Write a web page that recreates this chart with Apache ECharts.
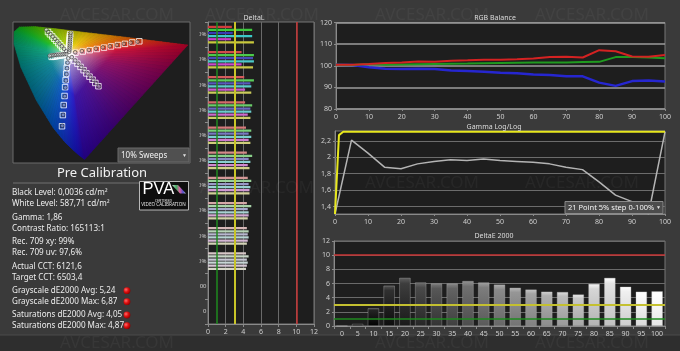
<!DOCTYPE html>
<html><head><meta charset="utf-8">
<script src="https://cdn.jsdelivr.net/npm/echarts@6/dist/echarts.min.js"></script>
<style>html,body{margin:0;padding:0;background:#3a3a3a;}#c{width:680px;height:351px;}</style>
</head><body><div id="c"></div>
<script>
// ---------------- DATA ----------------
const stepX = [0,5,10,15,20,25,30,35,40,45,50,55,60,65,70,75,80,85,90,95,100];
const rgbRed   = [100.5,100.5,100.8,101.3,101.5,102.0,101.8,102.3,102.5,102.8,102.8,103.0,103.3,104.0,104.2,103.8,107.2,106.7,104.3,104.2,105.0];
const rgbGreen = [100.5,100.3,100.8,100.5,100.6,100.7,100.8,100.9,101.0,101.2,101.3,101.4,101.5,101.5,101.5,101.7,101.8,104.0,104.0,103.8,103.5];
const rgbBlue  = [100.5,100.3,99.3,98.6,98.5,98.6,98.5,97.8,97.6,97.2,96.8,96.5,95.9,95.7,95.2,95.1,92.2,90.7,92.9,93.2,92.7];

const gammaMeasured = [1.31,2.21,2.05,1.88,1.86,1.92,1.95,1.97,1.96,1.98,1.96,1.95,1.94,1.92,1.88,1.85,1.70,1.54,1.46,1.31,2.31];
const gammaTargetX = [0,1.2,2.5,100];
const gammaTargetY = [1.31,2.27,2.31,2.31];
const gammaTicks = [1.4,1.6,1.8,2.0,2.2];

const deCategories = ['0','5','10','15','20','25','30','35','40','45','50','55','60','65','70','75','80','85','90','95','100'];
const deValues = [0,0.3,2.5,5.7,6.8,6.15,6.0,6.0,6.35,6.15,5.85,5.4,5.15,4.85,4.8,4.45,5.95,6.8,5.55,4.85,4.9];

const dlCategories = ['100%','90%','80%','70%','60%','50%','40%','30%','20%','10%','100','0'];
const dlLevels  = [1.0,0.9,0.8,0.7,0.6,0.5,0.4,0.3,0.2,0.1];
const dlRed     = [2.7,3.8,4.1,4.2,4.3,4.4,4.5,4.4,4.4,4.3];
const dlGreen   = [5.0,5.2,5.2,5.0,4.9,5.0,4.9,4.9,4.6,4.6];
const dlBlue    = [2.8,5.1,4.8,4.8,4.6,4.6,4.6,4.5,4.5,4.4];
const dlCyan    = [5.0,5.2,4.9,4.9,4.9,4.8,4.8,4.6,4.6,4.5];
const dlMagenta = [2.6,3.8,4.2,4.5,4.6,4.5,4.7,4.6,4.5,4.4];
const dlYellow  = [5.2,5.1,4.9,4.8,4.8,4.7,4.7,4.5,4.4,4.3];

const statsLines = ['Black Level: 0,0036 cd/m²','White Level: 587,71 cd/m²','Gamma: 1,86','Contrast Ratio: 165113:1',
  'Rec. 709 xy: 99%','Rec. 709 uv: 97,6%','Actual CCT: 6121,6','Target CCT: 6503,4',
  'Grayscale dE2000 Avg: 5,24','Grayscale dE2000 Max: 6,87','Saturations dE2000 Avg: 4,05','Saturations dE2000 Max: 4,87'];

// CIE 1976 u'v' spectral locus + purple line
const locusU = [0.2558,0.2347,0.2160,0.1877,0.1440,0.0828,0.0282,0.0035,0.0046,0.0231,0.0792,0.1530,0.2620,0.4030,0.5200,0.6233,0.5314,0.4396,0.3477];
const locusV = [0.0159,0.0350,0.0550,0.0871,0.1510,0.2709,0.4117,0.5130,0.5640,0.5837,0.5857,0.5766,0.5600,0.5400,0.5220,0.5064,0.3838,0.2612,0.1385];
const locusColor = ['#2a00a0','#1a0cc0','#1418c8','#1030d0','#0050c8','#00709c','#00888a','#00a070','#00ac40','#10b418','#40c000','#98d000','#f0c800','#f07000','#e82818','#c8002a','#8c0058','#640070','#40008c'];
const whitePoint = [0.1978,0.4683];

const redTargets     = [[0.223,0.474],[0.249,0.479],[0.274,0.485],[0.299,0.490],[0.325,0.496],[0.350,0.501],[0.375,0.507],[0.400,0.512],[0.426,0.518],[0.451,0.523]];
const greenTargets   = [[0.191,0.477],[0.183,0.487],[0.176,0.496],[0.169,0.506],[0.162,0.515],[0.154,0.525],[0.147,0.534],[0.140,0.544],[0.132,0.553],[0.125,0.563]];
const blueTargets    = [[0.196,0.452],[0.194,0.433],[0.192,0.409],[0.190,0.384],[0.188,0.356],[0.186,0.326],[0.184,0.288],[0.181,0.249],[0.178,0.206],[0.175,0.158]];
const cyanTargets    = [[0.192,0.467],[0.186,0.466],[0.180,0.464],[0.174,0.463],[0.168,0.462],[0.162,0.461],[0.156,0.459],[0.150,0.458],[0.144,0.457],[0.138,0.456]];
const magentaTargets = [[0.209,0.454],[0.219,0.440],[0.230,0.427],[0.241,0.413],[0.252,0.399],[0.262,0.385],[0.273,0.371],[0.284,0.358],[0.294,0.344],[0.305,0.330]];
const yellowTargets  = [[0.199,0.477],[0.199,0.485],[0.200,0.494],[0.200,0.502],[0.201,0.511],[0.202,0.519],[0.202,0.528],[0.203,0.536],[0.203,0.545],[0.204,0.553]];

const redMeasured     = [[0.222,0.476],[0.246,0.481],[0.271,0.486],[0.296,0.491],[0.321,0.497],[0.346,0.502],[0.371,0.507],[0.396,0.512],[0.420,0.517],[0.445,0.521]];
const greenMeasured   = [[0.190,0.480],[0.182,0.491],[0.174,0.502],[0.166,0.512],[0.158,0.523],[0.150,0.533],[0.142,0.543],[0.134,0.553],[0.126,0.563],[0.119,0.573]];
const blueMeasured    = [[0.197,0.450],[0.195,0.431],[0.193,0.407],[0.191,0.382],[0.189,0.354],[0.187,0.324],[0.185,0.287],[0.182,0.249],[0.179,0.207],[0.176,0.160]];
const cyanMeasured    = [[0.190,0.468],[0.183,0.468],[0.176,0.467],[0.169,0.466],[0.162,0.466],[0.155,0.465],[0.149,0.464],[0.143,0.463],[0.137,0.462],[0.131,0.461]];
const magentaMeasured = [[0.210,0.455],[0.222,0.441],[0.233,0.427],[0.244,0.413],[0.255,0.399],[0.266,0.385],[0.276,0.371],[0.287,0.357],[0.297,0.343],[0.307,0.329]];
const yellowMeasured  = [[0.201,0.478],[0.202,0.487],[0.202,0.496],[0.203,0.505],[0.203,0.514],[0.204,0.523],[0.204,0.532],[0.205,0.541],[0.205,0.550],[0.206,0.560]];

// ---------------- HELPERS ----------------
const FONT = 'Noto Sans, sans-serif';
function hexToRgb(h){h=h.replace('#','');return [parseInt(h.substr(0,2),16),parseInt(h.substr(2,2),16),parseInt(h.substr(4,2),16)];}
function mix(a,b,t){const A=hexToRgb(a),B=hexToRgb(b);const c=A.map((v,i)=>Math.round(v+(B[i]-v)*t));return 'rgb('+c.join(',')+')';}
function mixHex(a,b,t){const A=hexToRgb(a),B=hexToRgb(b);return '#'+A.map((v,i)=>Math.round(v+(B[i]-v)*t).toString(16).padStart(2,'0')).join('');}
function grayHex(g){g=Math.max(0,Math.min(255,Math.round(g)));const s=g.toString(16).padStart(2,'0');return '#'+s+s+s;}
const lbl = {color:'#cfcfcf', fontSize:7, fontFamily:FONT};

function renderLocus(params, api){
  const i = api.value(2);
  const n = locusU.length;
  const j = (i+1)%n;
  const w = api.coord(whitePoint);
  const children = [];
  const K = 8;
  for (let k=0;k<K;k++){
    const t0=k/K, t1=(k+1)/K;
    const p0 = api.coord([locusU[i]+(locusU[j]-locusU[i])*t0, locusV[i]+(locusV[j]-locusV[i])*t0]);
    const p1 = api.coord([locusU[i]+(locusU[j]-locusU[i])*t1, locusV[i]+(locusV[j]-locusV[i])*t1]);
    const col = mixHex(locusColor[i], locusColor[j], (t0+t1)/2);
    const r = Math.max(Math.hypot(p0[0]-w[0],p0[1]-w[1]), Math.hypot(p1[0]-w[0],p1[1]-w[1]));
    const grad = new echarts.graphic.RadialGradient(w[0], w[1], r, [
      {offset:0, color:'#ffffff'},
      {offset:0.1, color:mix(col,'#ffffff',0.55)},
      {offset:0.4, color:mix(col,'#ffffff',0.08)},
      {offset:1, color:mix(col,'#000000',0.22)}
    ], true);
    children.push({type:'polygon', shape:{points:[w,p0,p1]}, style:{fill:grad, stroke:grad, lineWidth:0.7}});
  }
  return {type:'group', children};
}

function sweepSeries(arr, isTarget){
  return {
    type:'scatter', xAxisIndex:0, yAxisIndex:0, data:arr, z: isTarget?4:5,
    symbol: isTarget?'rect':'circle', symbolSize: isTarget?5.5:3.6,
    itemStyle: isTarget ? {color:'rgba(0,0,0,0)', borderColor:'#ffffff', borderWidth:1}
                        : {color:'rgba(220,220,220,0.6)', borderColor:'#3a3a3a', borderWidth:0.8},
    silent:true
  };
}

const dlBase = {red:'#d23c3c', green:'#3cc83c', blue:'#3a3ab4', cyan:'#3cc8c8', magenta:'#c83cc8', yellow:'#c8c83c'};
function dlSeries(values, base){
  return {
    type:'bar', xAxisIndex:1, yAxisIndex:1, barWidth:2.2, barGap:'40%',
    data: values.map((v,i)=>({value:v, itemStyle:{color: mix(base,'#d6d6d6', 1-dlLevels[i])}})),
    silent:true
  };
}

// ---------------- OPTION ----------------
const chart = echarts.init(document.getElementById('c'));
const series = [];

// CIE
series.push({type:'custom', xAxisIndex:0, yAxisIndex:0, renderItem:renderLocus, silent:true, z:1,
  data: locusU.map((u,i)=>[u, locusV[i], i])});
[redTargets,greenTargets,blueTargets,cyanTargets,magentaTargets,yellowTargets].forEach(a=>series.push(sweepSeries(a,true)));
[redMeasured,greenMeasured,blueMeasured,cyanMeasured,magentaMeasured,yellowMeasured].forEach(a=>series.push(sweepSeries(a,false)));

// DeltaL
const dlS = [dlSeries(dlRed,dlBase.red), dlSeries(dlGreen,dlBase.green), dlSeries(dlBlue,dlBase.blue),
             dlSeries(dlCyan,dlBase.cyan), dlSeries(dlMagenta,dlBase.magenta), dlSeries(dlYellow,dlBase.yellow)];
dlS[0].markLine = {silent:true, symbol:'none', label:{show:false}, animation:false,
  data:[{xAxis:1, lineStyle:{color:'#1f8a1f', width:1.5, type:'solid'}},
        {xAxis:3, lineStyle:{color:'#c8c428', width:2, type:'solid'}},
        {xAxis:10, lineStyle:{color:'#c83434', width:1.5, type:'solid'}}]};
dlS.forEach(s=>series.push(s));

// RGB balance
series.push({type:'line', xAxisIndex:2, yAxisIndex:2, data:stepX.map((x,i)=>[x,rgbBlue[i]]), showSymbol:false, lineStyle:{color:'#2626d0', width:2.5}, silent:true});
series.push({type:'line', xAxisIndex:2, yAxisIndex:2, data:stepX.map((x,i)=>[x,rgbGreen[i]]), showSymbol:false, lineStyle:{color:'#1f9a1f', width:2}, silent:true});
series.push({type:'line', xAxisIndex:2, yAxisIndex:2, data:stepX.map((x,i)=>[x,rgbRed[i]]), showSymbol:false, lineStyle:{color:'#d42222', width:2}, silent:true});

// Gamma
series.push({type:'line', xAxisIndex:3, yAxisIndex:3, data:stepX.map((x,i)=>[x,gammaMeasured[i]]), showSymbol:false,
  lineStyle:{color:'#b4b4b4', width:1.5}, silent:true,
  markLine:{silent:true, symbol:'none', label:{show:false}, animation:false, z:1,
    lineStyle:{color:'#6c6c6c', width:1, type:'solid'}, data: gammaTicks.map(v=>({yAxis:v}))}});
series.push({type:'line', xAxisIndex:3, yAxisIndex:3, data:gammaTargetX.map((x,i)=>[x,gammaTargetY[i]]), showSymbol:false,
  lineStyle:{color:'#e8e81e', width:2}, silent:true});

// DeltaE
series.push({type:'bar', xAxisIndex:4, yAxisIndex:4, barWidth:'72%', silent:true,
  data: deValues.map((v,i)=>{
    const g = 255*i/20;
    return {value:v, itemStyle:{
      color: new echarts.graphic.LinearGradient(0,0,0,1,[{offset:0,color:grayHex(g+45)},{offset:0.12,color:grayHex(g+10)},{offset:1,color:grayHex(g-25)}]),
      borderColor:'rgba(190,190,190,0.55)', borderWidth:0.6}};
  }),
  markLine:{silent:true, symbol:'none', label:{show:false}, animation:false,
    data:[{yAxis:1, lineStyle:{color:'#1f8a1f', width:1.5, type:'solid'}},
          {yAxis:3, lineStyle:{color:'#c4c030', width:2, type:'solid'}},
          {yAxis:10, lineStyle:{color:'#c83434', width:1.5, type:'solid'}}]}
});

const gridFrame = {show:true, backgroundColor:'#1e1e1e', borderColor:'#767676', borderWidth:1};

// graphic elements
const graphics = [];
graphics.push({type:'rect', z:0, shape:{x:0,y:335,width:680,height:16}, style:{fill:'#2e2e2e'}});
graphics.push({type:'line', z:0, shape:{x1:0,y1:335,x2:680,y2:335}, style:{stroke:'#4a4a4a', lineWidth:1}});
// cover for clipped DeltaL labels
graphics.push({type:'rect', z:50, shape:{x:191,y:25,width:8.5,height:300}, style:{fill:'#3a3a3a'}});
// CIE dropdown
graphics.push({type:'rect', z:100, shape:{x:118,y:148,width:71,height:14}, style:{fill:'#505050', stroke:'#6a6a6a', lineWidth:1}});
graphics.push({type:'text', z:101, x:121, y:155.5, style:{text:'10% Sweeps', fill:'#f0f0f0', fontSize:8, fontFamily:FONT, verticalAlign:'middle'}});
graphics.push({type:'text', z:101, x:182, y:155.5, style:{text:'▼', fill:'#e0e0e0', fontSize:5, fontFamily:FONT, verticalAlign:'middle'}});
// Pre Calibration
graphics.push({type:'text', z:10, x:102, y:173.5, style:{text:'Pre Calibration', fill:'#f2f2f2', fontSize:13, fontFamily:FONT, align:'center', verticalAlign:'middle'}});
graphics.push({type:'line', z:10, shape:{x1:13,y1:183,x2:139,y2:183}, style:{stroke:'#707070', lineWidth:1}});
// stats
const statsY = [192.7,203.3,217.3,228.3,241.7,252.3,266.7,277.3,290.7,301.7,315,325.7];
statsLines.forEach((t,i)=>graphics.push({type:'text', z:10, x:12, y:statsY[i], style:{text:t, fill:'#ececec', fontSize:8.1, fontFamily:FONT, verticalAlign:'middle'}}));
[8,9,10,11].forEach(i=>graphics.push({type:'circle', z:10, shape:{cx:127, cy:statsY[i], r:3.4},
  style:{fill:new echarts.graphic.RadialGradient(0.35,0.35,0.7,[{offset:0,color:'#ff6a6a'},{offset:0.5,color:'#e01010'},{offset:1,color:'#8a0000'}])}}));
// PVA logo
graphics.push({type:'rect', z:10, shape:{x:139.5,y:181.5,width:49,height:28.5}, style:{fill:'#0e0e0e', stroke:'#b8b8b8', lineWidth:1}});
graphics.push({type:'text', z:11, x:142.5, y:189.5, style:{text:'PVA', fill:'#ffffff', fontSize:16.5, fontFamily:'Liberation Sans, sans-serif', verticalAlign:'middle'}});
graphics.push({type:'polygon', z:11, shape:{points:[[172,185],[178,185],[186,193.5],[180,193.5]]},
  style:{fill:new echarts.graphic.LinearGradient(0,0,1,0,[{offset:0,color:'#d9d9d9'},{offset:0.3,color:'#40b060'},{offset:0.55,color:'#d860a0'},{offset:0.8,color:'#5050d0'},{offset:1,color:'#d0d0d0'}])}});
graphics.push({type:'text', z:11, x:163.5, y:200.5, style:{text:'CERTIFIED', fill:'#e0e0e0', fontSize:3.6, fontFamily:FONT, align:'center', verticalAlign:'middle'}});
graphics.push({type:'text', z:11, x:163.5, y:205, style:{text:'VIDEO CALIBRATION', fill:'#e0e0e0', fontSize:4.6, fontFamily:FONT, align:'center', verticalAlign:'middle'}});
// titles
[['DeltaL',254,18],['RGB Balance',495,18.3],['Gamma Log/Log',494,127],['DeltaE 2000',494,236]].forEach(t=>
  graphics.push({type:'text', z:10, x:t[1], y:t[2], style:{text:t[0], fill:'#dcdcdc', fontSize:7, fontFamily:FONT, align:'center', verticalAlign:'middle'}}));
// gamma dropdown
graphics.push({type:'rect', z:100, shape:{x:565,y:201.5,width:98,height:12}, style:{fill:'#4c4c4c', stroke:'#8a8a8a', lineWidth:1}});
graphics.push({type:'text', z:101, x:568, y:207.7, style:{text:'21 Point 5% step 0-100%', fill:'#f4f4f4', fontSize:7.5, fontFamily:FONT, verticalAlign:'middle'}});
graphics.push({type:'text', z:101, x:656, y:207.5, style:{text:'▼', fill:'#e0e0e0', fontSize:5, fontFamily:FONT, verticalAlign:'middle'}});
// watermarks
[[60,15],[205,15],[375,15],[535,15],[365,183],[525,183],[200,188],[60,343],[375,343],[535,343]].forEach(p=>
  graphics.push({type:'text', z:120, x:p[0], y:p[1], style:{text:'AVCESAR.COM', fill:'rgba(255,255,255,0.045)', fontSize:17, fontFamily:FONT, verticalAlign:'middle'}}));

const option = {
  backgroundColor:'#3a3a3a',
  animation:false,
  textStyle:{fontFamily:FONT},
  grid:[
    Object.assign({left:13, top:22, width:177, height:141}, gridFrame, {borderColor:'#6a6a6a'}),
    Object.assign({left:208, top:22, width:106, height:302}, gridFrame),
    Object.assign({left:336, top:22.5, width:329, height:86.5}, gridFrame),
    Object.assign({left:335, top:131, width:330, height:83}, gridFrame),
    Object.assign({left:334, top:241, width:331, height:85}, gridFrame)
  ],
  xAxis:[
    {gridIndex:0, type:'value', min:0, max:0.632, show:false},
    {gridIndex:1, type:'value', min:0, max:12, interval:2, axisLabel:Object.assign({margin:4},lbl),
      axisLine:{show:true, lineStyle:{color:'#8a8a8a'}}, axisTick:{show:true, length:3, lineStyle:{color:'#8a8a8a'}},
      splitLine:{show:true, lineStyle:{color:'#6a6a6a', width:1}}},
    {gridIndex:2, type:'value', min:0, max:100, interval:10, axisLabel:Object.assign({margin:4},lbl),
      axisLine:{show:true, lineStyle:{color:'#8a8a8a'}}, axisTick:{show:true, length:2, lineStyle:{color:'#8a8a8a'}}, splitLine:{show:false}},
    {gridIndex:3, type:'value', min:0, max:100, interval:10, axisLabel:Object.assign({margin:4},lbl),
      axisLine:{show:true, lineStyle:{color:'#8a8a8a'}}, axisTick:{show:true, length:2, lineStyle:{color:'#8a8a8a'}}, splitLine:{show:false}},
    {gridIndex:4, type:'category', data:deCategories, axisLabel:Object.assign({margin:4, interval:0},lbl),
      axisLine:{show:true, lineStyle:{color:'#8a8a8a'}}, axisTick:{show:true, length:3, lineStyle:{color:'#8a8a8a'}}, splitLine:{show:false}}
  ],
  yAxis:[
    {gridIndex:0, type:'value', min:0, max:0.606, show:false},
    {gridIndex:1, type:'category', data:dlCategories, inverse:true, axisLabel:Object.assign({}, lbl, {margin:1.5, interval:0, fontSize:6}),
      axisLine:{show:true, lineStyle:{color:'#8a8a8a'}}, axisTick:{show:true, length:3, lineStyle:{color:'#8a8a8a'}}, splitLine:{show:false}},
    {gridIndex:2, type:'value', min:80, max:120, interval:10, axisLabel:Object.assign({margin:4},lbl),
      axisLine:{show:true, lineStyle:{color:'#8a8a8a'}}, axisTick:{show:true, length:2, lineStyle:{color:'#8a8a8a'}},
      splitLine:{show:true, lineStyle:{color:'#9c9c9c', width:1.5}}},
    {gridIndex:3, type:'value', min:1.31, max:2.32,
      axisLabel:Object.assign({margin:4, customValues:gammaTicks, formatter:v=>String(+v.toFixed(1)).replace('.',',')},lbl),
      axisLine:{show:true, lineStyle:{color:'#8a8a8a'}}, axisTick:{show:true, length:2, customValues:gammaTicks, lineStyle:{color:'#8a8a8a'}},
      splitLine:{show:false}},
    {gridIndex:4, type:'value', min:0, max:12, interval:2, axisLabel:Object.assign({margin:4},lbl),
      axisLine:{show:true, lineStyle:{color:'#8a8a8a'}}, axisTick:{show:true, length:2, lineStyle:{color:'#8a8a8a'}},
      splitLine:{show:true, lineStyle:{color:'#6a6a6a', width:1}}}
  ],
  series: series,
  graphic: {elements: graphics}
};
chart.setOption(option);
</script></body></html>
